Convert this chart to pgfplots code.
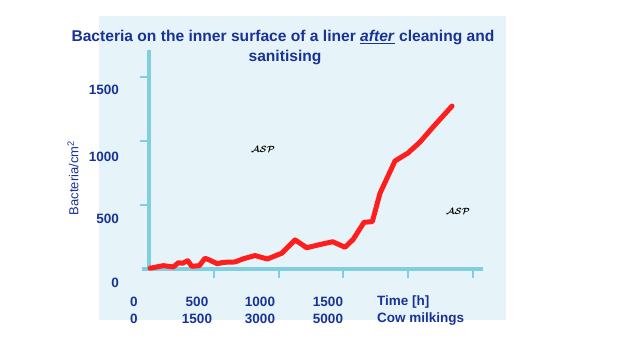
\documentclass[border=0pt]{standalone}
\usepackage{pgfplots}
\pgfplotsset{compat=1.18}
\usepackage{fontspec}
\setmainfont{Liberation Sans}
\definecolor{bgblue}{RGB}{230,244,250}
\definecolor{axblue}{RGB}{128,206,224}
\definecolor{txtblue}{RGB}{25,50,150}
\definecolor{curvered}{RGB}{255,30,30}
\begin{document}
\begin{tikzpicture}
\useasboundingbox (0pt,0pt) rectangle (640pt,363pt);
\fill[white] (0pt,0pt) rectangle (640pt,363pt);
\fill[bgblue] (99pt,43pt) rectangle (506pt,347pt);
\begin{axis}[
  at={(149pt,94pt)}, anchor=south west, scale only axis,
  width=334pt, height=219pt,
  xmin=0, xmax=2577, ymin=0, ymax=1711,
  axis lines=left,
  axis line style={-, line width=4pt, draw=axblue},
  x axis line style={shorten <=-7pt},
  xtick={500,1000,1500,2000,2500}, ytick={500,1000,1500},
  xticklabels={}, yticklabels={},
  tick align=outside, major tick length=9pt,
  tick style={line width=2pt, draw=axblue},
  clip=false,
]
\addplot[curvered, line width=5pt, line join=round, line cap=round] coordinates {
(8,6) (110,26) (188,16) (226,49) (260,45) (299,65) (330,21) (388,26)
(432,84) (471,68) (527,41) (573,52) (664,55) (728,80) (818,105) (913,78)
(1024,123) (1127,227) (1217,166) (1306,188) (1417,213) (1512,170) (1576,232)
(1659,365) (1723,370) (1782,591) (1898,844) (1998,906) (2091,992) (2194,1112) (2338,1273)
};
\end{axis}
\begin{scope}[every node/.style={text=txtblue, inner sep=0pt}]
\node[font=\fontsize{15.6}{18}\selectfont\bfseries] at (283pt,325pt) {Bacteria on the inner surface of a liner \underline{\textit{after}} cleaning and};
\node[font=\fontsize{15.6}{18}\selectfont\bfseries] at (285pt,305pt) {sanitising};
\begin{scope}[every node/.append style={font=\fontsize{13.5}{16}\selectfont\bfseries}]
\node[anchor=east] at (119pt,273pt) {1500};
\node[anchor=east] at (119pt,206pt) {1000};
\node[anchor=east] at (119pt,144pt) {500};
\node[anchor=east] at (119pt,80pt) {0};
\node at (134pt,61pt) {0};
\node at (197pt,61pt) {500};
\node at (260pt,61pt) {1000};
\node at (328pt,61pt) {1500};
\node[anchor=west] at (377pt,61pt) {Time [h]};
\node at (134pt,44pt) {0};
\node at (197pt,44pt) {1500};
\node at (260pt,44pt) {3000};
\node at (328pt,44pt) {5000};
\node[anchor=west] at (377pt,44pt) {Cow milkings};
\end{scope}
\node[rotate=90, font=\fontsize{13}{16}\selectfont] at (73pt,185pt) {Bacteria/cm\textsuperscript{2}};
\end{scope}
\node[text=black, font=\small\boldmath] at (263pt,214pt) {$\mathcal{ASP}$};
\node[text=black, font=\small\boldmath] at (458pt,152pt) {$\mathcal{ASP}$};
\end{tikzpicture}
\end{document}
